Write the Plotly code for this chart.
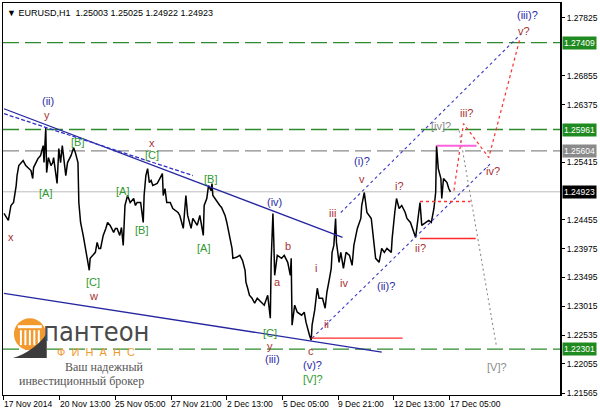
import plotly.graph_objects as go

# ---------------- data ----------------
bars = [0, 2, 5, 8, 11, 14, 15, 17, 22, 25, 29, 31, 33, 34, 39, 42, 45, 46, 48, 49,
        51, 54, 56, 57, 61, 63, 65, 67, 71, 73, 77, 80, 82, 85, 86, 88, 91, 94, 96, 98,
        99, 102, 105, 107, 109, 111, 114, 117, 119, 122, 126, 128, 130, 133, 135, 137, 138, 139, 142, 145,
        149, 151, 153, 157, 160, 161, 163, 165, 167, 169, 171,
        176, 179, 182, 183, 185, 187, 191, 194, 197, 200, 202, 206, 209, 211, 215, 217, 222, 225, 229, 230,
        233, 235, 238, 239, 240, 245, 248, 250, 254, 256, 259, 262, 263, 267, 271, 274, 277, 278, 280, 282,
        285, 288, 291, 296, 299, 303, 305, 306, 307, 309, 310, 311, 314, 319, 322, 326, 329, 330, 331, 334,
        337, 342, 345,
        347, 351, 353, 354, 357, 359, 360, 362, 366, 369, 371, 374, 376, 377, 379, 381, 382, 385, 387, 390,
        393, 397, 400, 402, 406, 410, 411, 414, 416, 417, 422, 425, 427, 431, 434, 437, 440, 445, 446, 449,
        451, 454, 457, 461, 463, 467, 471, 473, 475, 478, 480, 485, 488, 491, 494, 496, 497, 499, 502, 503,
        505, 509, 511, 513]
closes = [1.24562, 1.24512, 1.24446, 1.24695, 1.24745, 1.25027, 1.25194, 1.25360, 1.25443, 1.25360,
          1.25310, 1.25277, 1.25144, 1.25327, 1.25476, 1.25526, 1.25692, 1.25410, 1.25991, 1.25243,
          1.25493, 1.25360, 1.25410, 1.25493, 1.25061, 1.25642, 1.25410, 1.25692, 1.25194, 1.25410,
          1.25526, 1.25659, 1.25576, 1.25410, 1.24745, 1.24412, 1.24196, 1.23914, 1.23748, 1.23615,
          1.23814, 1.23864, 1.23914, 1.24080, 1.23980, 1.23980, 1.24196, 1.24313, 1.24412, 1.24363,
          1.24246, 1.24313, 1.24313, 1.24196, 1.24329, 1.24030, 1.24529, 1.24695, 1.24861, 1.24745,
          1.24811, 1.24695, 1.24745, 1.24745, 1.24412, 1.24861, 1.25194, 1.25310, 1.25077, 1.25110,
          1.25027,
          1.25061, 1.25144, 1.25227, 1.24861, 1.24977, 1.24745, 1.24745, 1.24645, 1.24612, 1.24578,
          1.24529, 1.24313, 1.24861, 1.24529, 1.24313, 1.24479, 1.24363, 1.24529, 1.24196, 1.24695,
          1.24811, 1.25027, 1.24944, 1.25061, 1.24861, 1.24745, 1.24695, 1.24662, 1.24529, 1.24412,
          1.24196, 1.23980, 1.23814, 1.23831, 1.23864, 1.23781, 1.23615, 1.23416, 1.23316, 1.23199,
          1.23149, 1.23066, 1.23149, 1.23083, 1.23033, 1.23199, 1.22983, 1.22817, 1.23781, 1.24562,
          1.24113, 1.23532, 1.23864, 1.23814, 1.23864, 1.23748, 1.23532, 1.23814, 1.22700, 1.23033,
          1.22917, 1.22867, 1.22917,
          1.22750, 1.22534, 1.22451, 1.22700, 1.22950, 1.23199, 1.23316, 1.23149, 1.23149, 1.22983,
          1.23249, 1.23482, 1.23648, 1.23914, 1.24030, 1.24479, 1.24080, 1.23748, 1.23914, 1.23648,
          1.23914, 1.23864, 1.23698, 1.24030, 1.24313, 1.24479, 1.24695, 1.24911, 1.24695, 1.24578,
          1.24479, 1.24080, 1.23814, 1.23748, 1.23980, 1.23914, 1.23980, 1.23914, 1.24146, 1.24578,
          1.24811, 1.24645, 1.24695, 1.24578, 1.24479, 1.24412, 1.24246, 1.24163, 1.24396, 1.24745,
          1.24363, 1.24412, 1.24446, 1.24412, 1.24645, 1.24911, 1.25692, 1.25310, 1.25144, 1.24811,
          1.25144, 1.25077, 1.24977, 1.24923]

tick_bars = [0, 64, 128, 192, 256, 320, 384, 448, 512]
tick_labels = ["17 Nov 2014", "20 Nov 13:00", "25 Nov 05:00", "27 Nov 21:00", "2 Dec 13:00",
               "5 Dec 05:00", "9 Dec 21:00", "12 Dec 13:00", "17 Dec 05:00"]
price_ticks = [1.27825, 1.26855, 1.26375, 1.25415, 1.24455,
               1.23975, 1.23495, 1.23015, 1.22535, 1.22055, 1.21565]

green_levels = [1.27409, 1.25961, 1.22301]
gray_level = 1.25604
last_price = 1.24923
header = "▼ EURUSD,H1  1.25003 1.25025 1.24922 1.24923"

upper_trend_x, upper_trend_y = [0, 389], [1.26307, 1.24163]
upper_trend2_x, upper_trend2_y = [0, 217], [1.26224, 1.25194]
lower_trend_x, lower_trend_y = [0, 434], [1.23232, 1.22252]
chan_up_x, chan_up_y = [387, 594], [1.24578, 1.27554]
chan_lo_x, chan_lo_y = [354, 559], [1.22484, 1.25393]
proj_red_x, proj_red_y = [517, 528, 557, 593], [1.24944, 1.26058, 1.25493, 1.27487]
proj_gray_x, proj_gray_y = [523, 566], [1.25941, 1.22335]
red_low_x, red_low_y = [353, 458], [1.22484, 1.22484]
red_ii_x, red_ii_y = [478, 542], [1.24146, 1.24146]
red_dot_x, red_dot_y = [478, 536], [1.24761, 1.24761]
pink_x, pink_y = [497, 543], [1.25692, 1.25692]

BLUE = "#2a2aa6"
RED = "#a83232"
GREEN = "#2f9a2f"
GRAY = "#8c8c8c"

wave_labels = [
    ("(ii)", 50, 1.26440, BLUE), ("y", 49, 1.26207, RED), ("[B]", 85, 1.25759, GREEN),
    ("x", 170, 1.25742, RED), ("[C]", 170, 1.25543, GREEN), ("[A]", 48, 1.24911, GREEN),
    ("[A]", 136, 1.24944, GREEN), ("[B]", 158, 1.24279, GREEN), ("x", 8, 1.24163, RED),
    ("[C]", 102, 1.23416, GREEN), ("w", 103, 1.23182, RED), ("[B]", 237, 1.25144, GREEN),
    ("[A]", 229, 1.23980, GREEN), ("(iv)", 311, 1.24745, BLUE), ("b", 326, 1.24013, RED),
    ("a", 314, 1.23416, RED), ("[C]", 306, 1.22568, GREEN), ("y", 306, 1.22352, RED),
    ("(iii)", 309, 1.22136, BLUE), ("c", 353, 1.22269, RED), ("(v)?", 354, 1.22036, BLUE),
    ("[V]?", 355, 1.21803, GREEN), ("ii", 370, 1.22717, RED), ("i", 359, 1.23648, RED),
    ("iv", 391, 1.23399, RED), ("iii", 378, 1.24578, RED), ("v", 411, 1.25144, RED),
    ("(i)?", 411, 1.25443, BLUE), ("(ii)?", 439, 1.23349, BLUE), ("i?", 454, 1.25027, RED),
    ("ii?", 479, 1.23980, RED), ("[iv]?", 502, 1.26025, GRAY), ("iii?", 531, 1.26241, RED),
    ("iv?", 562, 1.25277, RED), ("v?", 597, 1.27603, RED), ("(iii)?", 602, 1.27869, BLUE),
    ("[V]?", 566, 1.22003, GRAY),
]

X_RANGE = [-1.14, 640]
Y_RANGE = [1.21537, 1.28069]

fig = go.Figure()


def line(x, y, color, width=1.2, dash="solid"):
    fig.add_trace(go.Scatter(x=x, y=y, mode="lines", hoverinfo="skip",
                             line=dict(color=color, width=width, dash=dash)))


# horizontal levels
for lv in green_levels:
    fig.add_shape(type="line", xref="paper", x0=0, x1=1, y0=lv, y1=lv,
                  line=dict(color="#2e8b2e", width=1.3, dash="16px,6px"), layer="below")
fig.add_shape(type="line", xref="paper", x0=0, x1=1, y0=gray_level, y1=gray_level,
              line=dict(color="#8a8a8a", width=1.3, dash="16px,6px"), layer="below")
fig.add_shape(type="line", xref="paper", x0=0, x1=1, y0=last_price, y1=last_price,
              line=dict(color="#bdbdbd", width=1), layer="below")

# price
line(bars, closes, "black", 1.5)

# trend lines / projections
line(upper_trend_x, upper_trend_y, "#2626a0", 1.3)
line(upper_trend2_x, upper_trend2_y, "#3030c8", 1.3, "4px,2px")
line(lower_trend_x, lower_trend_y, "#2626a0", 1.3)
line(chan_up_x, chan_up_y, "#3a3ac8", 1.1, "3px,3px")
line(chan_lo_x, chan_lo_y, "#3a3ac8", 1.1, "3px,3px")
line(proj_red_x, proj_red_y, "#ff3030", 1.2, "3px,3px")
line(proj_gray_x, proj_gray_y, "#8a8a8a", 1.1, "2px,3px")
line(red_low_x, red_low_y, "#ff2a2a", 1.4)
line(red_ii_x, red_ii_y, "#ff2a2a", 1.4)
line(red_dot_x, red_dot_y, "#ff3030", 1.4, "3px,3px")
line(pink_x, pink_y, "#ff60dc", 2)

annotations = []
for t, bx, py, c in wave_labels:
    annotations.append(dict(x=bx, y=py, xref="x", yref="y", text=t, showarrow=False,
                            font=dict(family="Liberation Sans", size=11, color=c)))

# right-axis price boxes
for lv, bg in [(green_levels[0], "#1f8a1f"), (green_levels[1], "#1f8a1f"),
               (green_levels[2], "#1f8a1f"), (gray_level, "#8a8a8a"), (last_price, "#000000")]:
    annotations.append(dict(x=1, xref="paper", y=lv, yref="y", text=f"{lv:.5f}",
                            xanchor="left", yanchor="middle", xshift=1, showarrow=False,
                            bgcolor=bg, borderpad=1,
                            font=dict(family="Liberation Sans", size=8.5, color="white")))

# time labels
for tb, tl in zip(tick_bars, tick_labels):
    annotations.append(dict(x=tb, xref="x", y=-0.023, yref="paper", text=tl, showarrow=False,
                            xanchor="left", yanchor="middle", xshift=-2,
                            font=dict(family="Liberation Sans", size=8.5, color="black")))

# header
annotations.append(dict(x=0.004, y=0.993, xref="paper", yref="paper", text=header,
                        showarrow=False, xanchor="left", yanchor="top",
                        font=dict(family="Liberation Sans", size=9, color="black")))


# ---- logo (decoration, positioned in pixel space of the plot) ----
def PX(px):
    return (px - 2) / 561


def PY(py):
    return (395 - py) / 393


shapes = []
shapes.append(dict(type="circle", xref="paper", yref="paper", x0=PX(13), x1=PX(45),
                   y0=PY(350), y1=PY(318), fillcolor="#f29a2e", line=dict(width=0)))
shapes.append(dict(type="rect", xref="paper", yref="paper", x0=PX(17), x1=PX(41),
                   y0=PY(328), y1=PY(325), fillcolor="white", line=dict(width=0)))
for cx in [19, 23.5, 28, 32.5, 37]:
    shapes.append(dict(type="rect", xref="paper", yref="paper", x0=PX(cx), x1=PX(cx + 2),
                       y0=PY(345), y1=PY(330), fillcolor="white", line=dict(width=0)))
path = (f"M {PX(12)},{PY(358)} C {PX(24)},{PY(354)} {PX(38)},{PY(346)} {PX(46)},{PY(333)} "
        f"L {PX(46)},{PY(358)} Z")
shapes.append(dict(type="path", xref="paper", yref="paper", path=path,
                   fillcolor="#3c3c3c", line=dict(width=0)))
shapes.append(dict(type="line", xref="paper", yref="paper", x0=1, x1=1, y0=0, y1=1,
                   line=dict(color="black", width=2)))

annotations.append(dict(x=PX(96), y=PY(331), xref="paper", yref="paper", text="пантеон",
                        showarrow=False, xanchor="center", yanchor="middle",
                        font=dict(family="DejaVu Sans Condensed, DejaVu Sans", size=27,
                                  color="#4a4a4a")))
annotations.append(dict(x=PX(96), y=PY(352), xref="paper", yref="paper",
                        text="Ф  И  Н  А  Н  С", showarrow=False,
                        xanchor="center", yanchor="middle",
                        font=dict(family="Liberation Sans", size=11, color="#f29a2e")))
annotations.append(dict(x=PX(146), y=PY(367), xref="paper", yref="paper", text="Ваш надежный",
                        showarrow=False, xanchor="right", yanchor="middle",
                        font=dict(family="Liberation Serif", size=12, color="#555555")))
annotations.append(dict(x=PX(146), y=PY(381), xref="paper", yref="paper",
                        text="инвестиционный брокер", showarrow=False,
                        xanchor="right", yanchor="middle",
                        font=dict(family="Liberation Serif", size=12, color="#555555")))

fig.update_layout(
    width=600, height=411,
    margin=dict(l=2, r=37, t=2, b=16),
    paper_bgcolor="white", plot_bgcolor="white",
    showlegend=False,
    annotations=annotations,
    shapes=fig.layout.shapes + tuple(shapes),
    xaxis=dict(range=X_RANGE, showgrid=False, zeroline=False, showline=True, mirror=True,
               linecolor="black", linewidth=1, ticks="outside", tickvals=tick_bars,
               ticklen=4, tickcolor="black", showticklabels=False),
    yaxis=dict(range=Y_RANGE, side="right", showgrid=False, zeroline=False, showline=True,
               mirror=True, linecolor="black", linewidth=1, ticks="outside",
               tickvals=price_ticks, ticktext=[f"{v:.5f}" for v in price_ticks],
               ticklen=3, tickcolor="black",
               tickfont=dict(family="Liberation Sans", size=8.5, color="black")),
)

fig.write_html("out.html", config={"displayModeBar": False},
               post_script="document.body.style.margin='0px';document.body.style.overflow='hidden';")
